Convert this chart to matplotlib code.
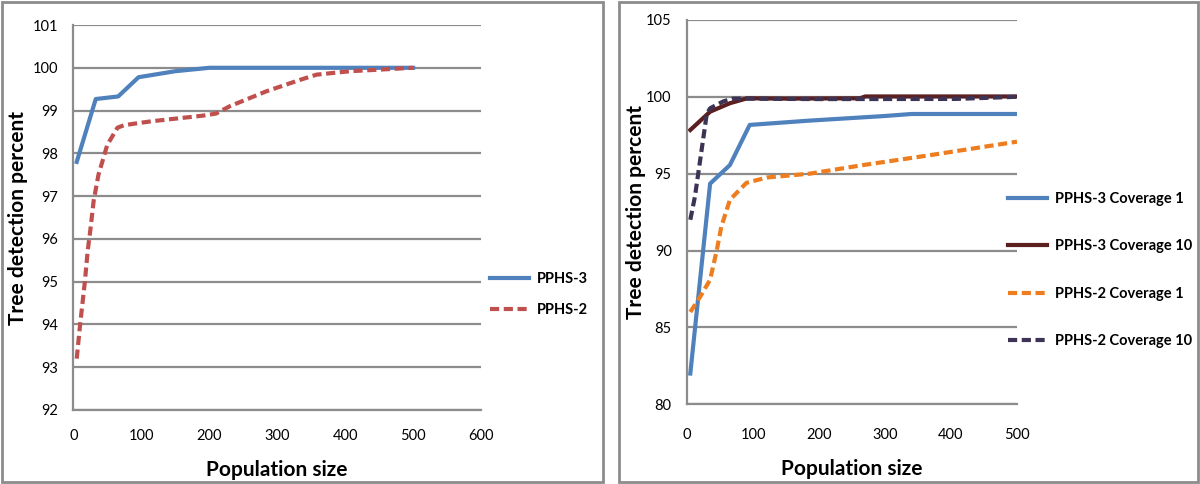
import numpy as np
import matplotlib
matplotlib.use('Agg')
import matplotlib.pyplot as plt
from matplotlib.patches import Rectangle

plt.rcParams['font.family'] = ['Lato', 'DejaVu Sans']

# left panel data
pphs3_x = [5, 33, 66, 96, 150, 200, 300, 400, 500]
pphs3_y = [97.8, 99.27, 99.33, 99.78, 99.92, 100.0, 100.0, 100.0, 100.0]
pphs2_x = [5, 10, 17, 21, 25, 30, 37, 50, 65, 75, 115, 190, 210, 230, 284, 334, 358, 407, 500]
pphs2_y = [93.2, 94.0, 95.0, 95.7, 96.2, 96.9, 97.5, 98.2, 98.6, 98.66, 98.75, 98.88, 98.93,
           99.1, 99.45, 99.72, 99.84, 99.92, 100.0]

# right panel data
c1_p3_x = [5, 35, 65, 95, 186, 300, 340, 500]
c1_p3_y = [82.0, 94.35, 95.56, 98.17, 98.45, 98.75, 98.88, 98.88]
c10_p3_x = [5, 35, 65, 91, 150, 262, 270, 500]
c10_p3_y = [97.84, 99.03, 99.58, 99.9, 99.88, 99.9, 100.02, 100.02]
c1_p2_x = [5, 20, 35, 45, 52, 65, 90, 121, 186, 267, 368, 500]
c1_p2_y = [86.0, 87.0, 88.1, 90.0, 91.55, 93.3, 94.4, 94.75, 95.0, 95.56, 96.2, 97.08]
c10_p2_x = [5, 12, 17, 25, 30, 35, 55, 70, 200, 408, 500]
c10_p2_y = [92.0, 93.5, 95.0, 97.4, 98.9, 99.25, 99.7, 99.88, 99.85, 99.86, 100.0]

grid_col = '#8c8c8c'
fig = plt.figure(figsize=(12, 4.84), dpi=100)

# panel frames
for x0, x1 in [(2, 603), (619, 1198)]:
    fig.patches.append(Rectangle((x0 / 1200, 2 / 484), (x1 - x0) / 1200, 480 / 484,
                                 transform=fig.transFigure, fill=False,
                                 edgecolor=grid_col, lw=2))


def style(ax, xlim, xticks, ylim, yticks, xpad, ylab_x):
    ax.set_xlim(*xlim)
    ax.set_ylim(*ylim)
    ax.set_xticks(xticks)
    ax.set_yticks(yticks)
    ax.grid(axis='y', color=grid_col, lw=1.6)
    ax.set_axisbelow(True)
    for s in ['top', 'right']:
        ax.spines[s].set_visible(False)
    for s in ['left', 'bottom']:
        ax.spines[s].set_color(grid_col)
        ax.spines[s].set_linewidth(1.6)
    ax.tick_params(length=0, labelsize=10.5)
    ax.tick_params(axis='y', pad=11)
    ax.tick_params(axis='x', pad=xpad)
    ax.set_xlabel('Population size', fontsize=15, fontweight='bold', labelpad=12)
    ax.set_ylabel('Tree detection percent', fontsize=15, fontweight='bold')
    ax.yaxis.set_label_coords(ylab_x, 0.5)


leg_kw = dict(frameon=False, prop={'size': 10.5, 'weight': 'bold'}, handlelength=2.7,
              handletextpad=0.5, borderaxespad=0, borderpad=0)

ax1 = fig.add_axes([0.0611, 0.1529, 0.3398, 0.7954])
ax1.plot(pphs3_x, pphs3_y, color='#4F81BD', lw=3, label='PPHS-3')
ax1.plot(pphs2_x, pphs2_y, color='#C0504D', lw=3, ls=(0, (2.2, 1.1)), label='PPHS-2')
style(ax1, (0, 600), range(0, 601, 100), (92, 101), range(92, 102), 14, -0.111)
ax1.legend(loc='center left', bbox_to_anchor=(1.022, 0.30), labelspacing=1.2, **leg_kw)

ax2 = fig.add_axes([0.5725, 0.1647, 0.275, 0.7942])
ax2.plot(c1_p3_x, c1_p3_y, color='#4F81BD', lw=3, label='PPHS-3 Coverage 1')
ax2.plot(c10_p3_x, c10_p3_y, color='#5C1F1F', lw=3, label='PPHS-3 Coverage 10')
ax2.plot(c1_p2_x, c1_p2_y, color='#ED7D1E', lw=3, ls=(0, (2.2, 1.1)), label='PPHS-2 Coverage 1')
ax2.plot(c10_p2_x, c10_p2_y, color='#3D3355', lw=3, ls=(0, (2.2, 1.1)), label='PPHS-2 Coverage 10')
style(ax2, (0, 500), range(0, 501, 100), (80, 105), range(80, 106, 5), 17, -0.124)
ax2.legend(loc='center left', bbox_to_anchor=(0.973, 0.349), labelspacing=2.3, **leg_kw)

fig.savefig('out.png', dpi=100)
